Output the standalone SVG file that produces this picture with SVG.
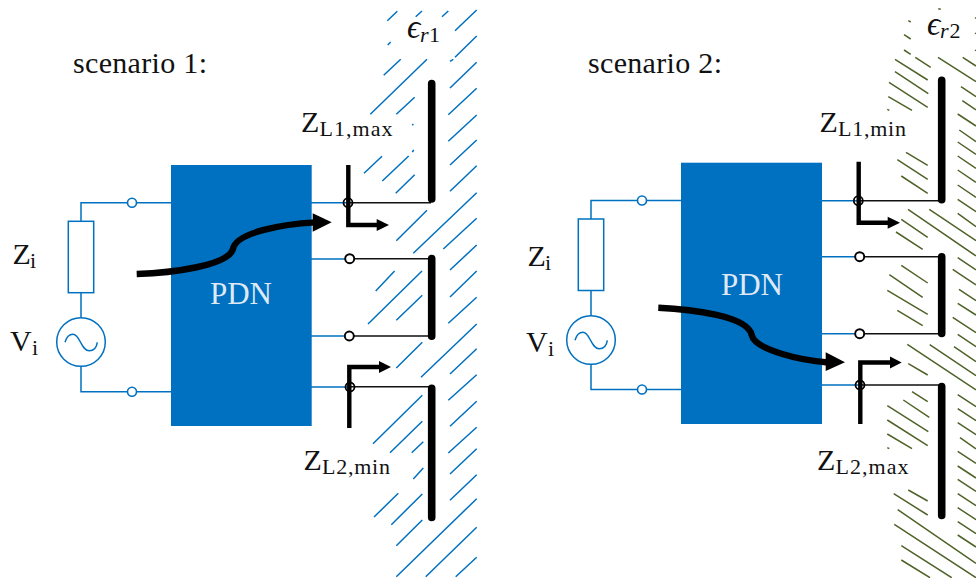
<svg xmlns="http://www.w3.org/2000/svg" width="976" height="578" viewBox="0 0 976 578">
<style>
text{font-family:"Liberation Serif","Times New Roman",serif;fill:#111}
.m{font-size:30px}.s{font-size:22px}
.pdn{font-size:31px;fill:#dfe9f5}
.blk{fill:#0070c0}
.w{fill:none;stroke:#0070c0;stroke-width:1.5}
.hb{fill:none;stroke:#0070c0;stroke-width:1.5}
.ho{fill:none;stroke:#4f6228;stroke-width:1.5}
.thin{fill:none;stroke:#111;stroke-width:1.6}
.ant{fill:none;stroke:#000;stroke-width:7.6;stroke-linecap:round}
.stub{fill:none;stroke:#000;stroke-width:4.4}
.flow{fill:none;stroke:#000;stroke-width:6.4}
.port{fill:#fff;stroke:#0070c0;stroke-width:1.6}
.term{fill:#fff;stroke:#000;stroke-width:1.9}
.cross{fill:none;stroke:#000;stroke-width:1.8}
</style>
<g id="hatch1" class="hb">
<path d="M387.3,20.7L397.3,11.3M415.7,16.7L422,11M442,16.7L448.3,11M455,30.7L476.7,10M387.7,45L390.7,42M383.7,75.3L400.7,59.3M370.3,114.3L427,59.3M455,57.3L476.7,36M450,61.3L453.3,59.3M450,88L476.7,62.3M396.3,114.3L414.7,97.3M448.3,114.7L476.7,88.3M412.3,125.3L413.3,124M412.3,152L413.7,150M448.3,141.3L476.7,115M450,165L476.7,140M450,191.3L476.7,165.7M413.3,253.3L476.7,192.7M443.3,249L476.7,218.3M450,270L476.7,245M364,173.3L382,156.3M382.3,181L408.7,156M395.7,193.3L414.7,174.7M396.3,240.7L427,210.3"/>
<path d="M368,324L422,271M375.7,291L394.6,271M396.3,320.3L422.3,295.3M450,297L476.7,271M448.3,323.3L476.7,297.3M396.3,368L422.3,342.3M421,377.3L476.7,324M450,374L476.7,348.7M448.3,400.3L476.7,374.7M450,426.3L476.7,401.3M448.3,453L476.7,427.3M450,474L476.7,448.7M450,500.3L476.7,474.7M373,443.7L422.3,395.3M390,452.7L422.3,421.3M411.7,452.7L423.3,441.7M413.3,479L423.3,468M374,517L398.3,493.3M391.3,524.7L422.3,494M396.3,545.7L422.3,520M396.3,576.7L476.7,498.7M425.7,576.7L476.7,527.3M455.7,576.7L476.7,557.3"/>
</g>
<g id="hatch2" class="ho">
<path d="M938.3,8.7L940.7,9.3M908.3,20.7L910.7,22M904,34.7L910.7,39M904,50L910.7,54.3M915.3,57.3L930.7,67.3M938,57.3L976,81.7M962.7,57.3L976,66M895,59.3L927.7,80M895,71.7L928.3,93.7M889,82.3L927.7,107.3M888.3,96.7L912,110.3M887.3,109.3L889.3,110.3M961,86.7L976,96.7M962.3,100.7L976,110M957.7,114L976,126M975,17.7L976,18.3M975,33L976,33.7M975,50L976,50.7"/>
<path d="M906,152.3L927.7,165.3M897.3,159.7L927.7,179.3M901.3,176L927.7,193.3M908,209.3L976,256M929.3,209.3L976,240.7M901.3,219.3L927.7,237.3M896,232L922.7,249.3M959.3,130L976,141.7M957.7,142L976,154.3M957.7,156L976,168.3M957.7,170L976,182.3M957.7,185L976,197.3M957.7,199.3L976,211.7M957.7,213.3L976,226.7M957.7,257.7L976,270"/>
<path d="M901.3,265.3L927.7,283M889.3,274.7L922.7,297.3M887.3,290.3L927.7,314.3M897.3,310.3L922.7,325.7M952.7,269.3L976,285M959,289.3L976,300.7M957.7,303.3L976,315M952.7,317.3L976,332.7M957.7,334.3L976,346.7M954,346.7L976,361.7M929.7,344.7L976,375.7M907.3,344.3L976,390M908.3,363.7L927.7,375"/>
<path d="M912,391.7L927.7,401.7M903.3,400L929.3,417.3M887.3,405.7L928.3,431.7M887.3,420L927.7,445.7M887.3,434L912,448.7M887.3,447.7L889.3,448.7M957.7,394.7L976,406.7M957.7,408.7L976,420.7M957.7,422.7L976,434.7M960,437.7L976,449M957.7,451.3L976,463.3M957.7,466L976,478M957.7,479.3L976,491.3M957.7,493.7L976,505.7M957.7,507.7L976,519.7M957.7,521.7L976,533.7M957.7,535L976,547M908.3,490L927.7,501M893.7,493.7L927.7,515M897.7,509.7L976,563.3M894.3,524.3L976,577.7M901.3,545.7L951.7,577.7M901.3,560L930,577.7"/>
</g>
<g id="connectors">
<path class="w" d="M172,202.7H81V221.3M81,292.7V317.7M81,366.3V391.7H172"/>
<path class="w" d="M682,200.5H591V219M591,290.5V315.7M591,364.3V389.5H682"/>
<path class="w" d="M311,202.7H348M311,259H350M311,336H349M311,387H350"/>
<path class="w" d="M821,200.7H858M821,256.7H860M821,333.7H860M821,385H860"/>
<path class="thin" d="M348,202.7H431M350,258.7H431M349,336H431M350,386.7H431"/>
<path class="thin" d="M858,200.7H941M860,256.7H941M860,333.7H941M860,385H941"/>
</g>
<g id="source1">
<rect class="w" x="68.3" y="221.3" width="25.4" height="71.4"/>
<circle class="w" cx="81" cy="342" r="24.3"/>
<path class="w" d="M65,342.3C66.5,337 69.5,334.3 73,334.3C80,334.3 81,350.7 89.3,350.7C93,350.7 96.5,348 97.3,342.3"/>
<circle class="port" cx="132" cy="202.7" r="4.5"/>
<circle class="port" cx="132" cy="391.7" r="4.5"/>
<text class="m" x="12.5" y="264">Z<tspan class="s" x="30" y="267.5">i</tspan></text>
<text class="m" x="10" y="350.7">V<tspan class="s" x="32" y="354.5">i</tspan></text>
</g>
<g id="source2">
<rect class="w" x="578.3" y="219" width="25.4" height="71.5"/>
<circle class="w" cx="591" cy="340" r="24.3"/>
<path class="w" d="M575,340.3C576.5,335 579.5,332.3 583,332.3C590,332.3 591,348.7 599.3,348.7C603,348.7 606.5,346 607.3,340.3"/>
<circle class="port" cx="642" cy="200.5" r="4.5"/>
<circle class="port" cx="642" cy="389.5" r="4.5"/>
<text class="m" x="527.5" y="266">Z<tspan class="s" x="545" y="269.5">i</tspan></text>
<text class="m" x="526" y="352">V<tspan class="s" x="548" y="355.5">i</tspan></text>
</g>
<g id="pdn1">
<rect class="blk" x="171" y="165" width="140.7" height="261"/>
<text class="pdn" x="210" y="304" textLength="62">PDN</text>
</g>
<g id="pdn2">
<rect class="blk" x="681" y="162.7" width="141" height="261.3"/>
<text class="pdn" x="721" y="295" textLength="62">PDN</text>
</g>
<g id="flow1">
<path class="flow" d="M136.7,274C170,273 228,266 233,249C236,232 285,224 315,222.4"/>
<path d="M312.7,213.3L331.7,222.3L312.7,231.7Z"/>
</g>
<g id="flow2">
<path class="flow" d="M658.3,307.7C690,309 748,316 751.7,335C755,350 800,360 828,362.5"/>
<path d="M825.7,352.3L845,362.3L825.7,371Z"/>
</g>
<g id="load1">
<path class="ant" d="M431.7,83.5V199M431.7,258.5V336.2M431.7,388.2V517.5"/>
<path class="stub" d="M348.3,165V225H378"/>
<path d="M376.7,219L389,225L376.7,231Z"/>
<path class="stub" d="M349.3,428V367H381"/>
<path d="M379,361L391,367L379,373Z"/>
<circle class="term" cx="349.7" cy="258.7" r="4.5"/>
<circle class="term" cx="349.3" cy="336" r="4.5"/>
<circle class="cross" cx="348" cy="202.7" r="4.5"/>
<circle class="cross" cx="350" cy="387" r="4.5"/>
</g>
<g id="load2">
<path class="ant" d="M941.7,80.2V199.8M941.7,256.8V333.5M941.7,386.5V515.5"/>
<path class="stub" d="M858.7,161.7V222.7H889"/>
<path d="M887.7,216.7L900,222.7L887.7,228.7Z"/>
<path class="stub" d="M860.3,424V362.5H892"/>
<path d="M890,356.5L901.7,362.5L890,368.5Z"/>
<circle class="term" cx="859.7" cy="256.7" r="4.5"/>
<circle class="term" cx="859.7" cy="333.7" r="4.5"/>
<circle class="cross" cx="858.3" cy="200.7" r="4.5"/>
<circle class="cross" cx="860" cy="385" r="4.5"/>
</g>
<g id="labels">
<text class="m" x="73" y="73" textLength="134">scenario 1:</text>
<text class="m" x="588" y="73" textLength="134">scenario 2:</text>
<text class="m" x="301" y="131.7">Z<tspan class="s" x="319.5" y="136" textLength="73">L1,max</tspan></text>
<text class="m" x="303.5" y="469.7">Z<tspan class="s" x="322" y="474" textLength="68">L2,min</tspan></text>
<text class="m" x="819.5" y="131.7">Z<tspan class="s" x="838" y="136" textLength="68">L1,min</tspan></text>
<text class="m" x="817" y="469.7">Z<tspan class="s" x="835.5" y="474" textLength="73">L2,max</tspan></text>
<text x="407" y="38" font-size="33" font-style="italic">ϵ<tspan class="s" x="420" y="41.7">r</tspan><tspan class="s" x="429" y="41.7" font-style="normal">1</tspan></text>
<text x="927" y="34.5" font-size="33" font-style="italic">ϵ<tspan class="s" x="940" y="37.7">r</tspan><tspan class="s" x="949.5" y="37.7" font-style="normal">2</tspan></text>
</g>
</svg>
